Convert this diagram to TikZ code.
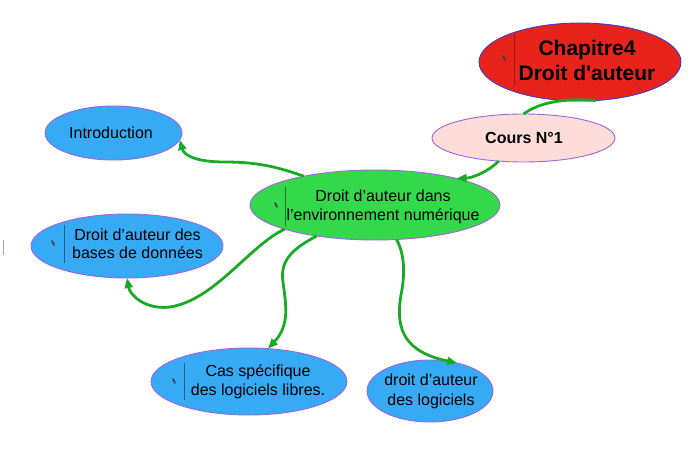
\documentclass[tikz,border=0pt]{standalone}
\usepackage{fontspec}
\setmainfont{Liberation Sans}
\newfontfamily\chapfont{Liberation Sans}[Ligatures=TeXOff]
\usetikzlibrary{shapes.geometric,arrows.meta}
\definecolor{redfill}{RGB}{232,35,28}
\definecolor{redline}{RGB}{60,60,200}
\definecolor{pinkfill}{RGB}{252,221,218}
\definecolor{purpleline}{RGB}{160,100,220}
\definecolor{greenfill}{RGB}{51,217,74}
\definecolor{bluefill}{RGB}{54,170,245}
\definecolor{linkgreen}{RGB}{26,170,40}
\tikzset{
  bub/.style={ellipse, draw=purpleline, line width=0.9pt, inner sep=0pt, outer sep=0pt},
  txt/.style={inner sep=0pt, align=center, font=\fontsize{16}{19.5}\selectfont},
  btxt/.style={inner sep=0pt, align=center, font=\bfseries\fontsize{16}{19.5}\selectfont},
  link/.style={draw=linkgreen, line width=2.8pt},
  arr/.style={link, -{Triangle[length=10pt,width=8pt]}},
  sep/.style={line width=1pt},
  tick/.style={line width=1.6pt, draw=black!75, line cap=round}
}
\begin{document}
\begin{tikzpicture}[x=1pt,y=-1pt]
\useasboundingbox (0,0) rectangle (695,460);
% nodes
\node[bub, draw=redline, fill=redfill, minimum width=202pt, minimum height=78pt] (chap) at (580,62) {};
\node[btxt, font=\chapfont\bfseries\fontsize{21}{25}\selectfont] (chapT) at (587,60.5) {Chapitre4\\Droit d'auteur};
\draw[sep, draw=redfill!70!black] (514,34) -- (514,86);
\draw[tick] (503,56) -- (505,60);

\node[bub, fill=pinkfill, minimum width=183pt, minimum height=48pt] (cours) at (523.5,138) {};
\node[btxt] (coursT) at (524,137.5) {Cours N°1};

\node[bub, fill=greenfill, minimum width=250pt, minimum height=70pt] (central) at (375,205) {};
\node[txt] (centralT) at (383,207) {Droit d’auteur dans\\l’environnement numérique};
\draw[sep, draw=greenfill!55!black] (285,187) -- (285,226);
\draw[tick] (275,203) -- (277,207);

\node[bub, fill=bluefill, minimum width=137pt, minimum height=54pt] (intro) at (113.5,133) {};
\node[txt] (introT) at (111,133) {Introduction};

\node[bub, fill=bluefill, minimum width=192pt, minimum height=64pt] (bases) at (127,246) {};
\node[txt, font=\fontsize{16}{18.5}\selectfont] (basesT) at (137.5,244) {Droit d’auteur des\\bases de données};
\draw[sep, draw=bluefill!55!black] (64,225) -- (64,263);
\draw[tick] (52,241) -- (54,245);

\node[bub, fill=bluefill, minimum width=196pt, minimum height=67pt] (cas) at (249,381.5) {};
\node[txt] (casT) at (258,382) {Cas spécifique\\des logiciels libres.};
\draw[sep, draw=bluefill!55!black] (184,363) -- (184,400);
\draw[tick] (173,379) -- (175,383);

\node[bub, fill=bluefill, minimum width=126pt, minimum height=62pt] (logi) at (430,391) {};
\node[txt] (logiT) at (431,391.5) {droit d’auteur\\des logiciels};

\draw[line width=0.8pt, draw=black!35] (3,240) -- (3,255);

% connectors
\draw[link] (chap.-68) .. controls (565,98) and (540,102) .. (cours.north);
\draw[arr] (cours.223) .. controls (488,172) and (472,178) .. (central.18);
\draw[arr] (central.158) .. controls (275,166) and (255,162) .. (225,162)
  .. controls (195,162) and (184,155) .. (intro.-6);
\draw[arr] (central.195) .. controls (250,245) and (215,300) .. (170,307)
  .. controls (145,310) and (130,295) .. (bases.south);
\draw[arr] (central.208) .. controls (290,250) and (280,262) .. (283,282)
  .. controls (286,305) and (290,325) .. (cas.60);
\draw[arr] (central.-58) .. controls (405,255) and (405,275) .. (401,295)
  .. controls (395,330) and (405,352) .. (logi.46);
\end{tikzpicture}
\end{document}
